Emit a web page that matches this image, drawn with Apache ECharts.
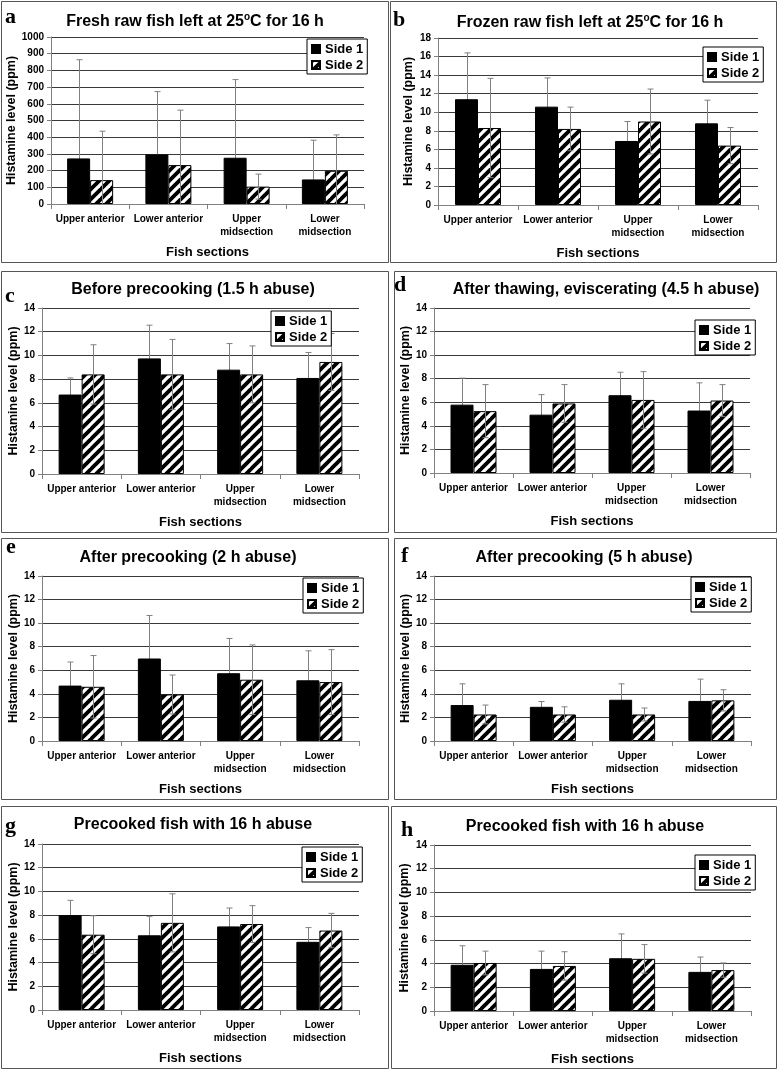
<!DOCTYPE html>
<html><head><meta charset="utf-8">
<script src="https://cdn.jsdelivr.net/npm/echarts@6/dist/echarts.min.js"></script>
<style>html,body{margin:0;padding:0;background:#fff}#c{width:779px;height:1070px}</style>
</head><body><div id="c"></div>
<script>
// ---------- data ----------
const categories = ['Upper anterior', 'Lower anterior', 'Upper\nmidsection', 'Lower\nmidsection'];
const seriesNames = ['Side 1', 'Side 2'];
const yAxisName = 'Histamine level (ppm)';
const xAxisName = 'Fish sections';
const panelLetters = ['a', 'b', 'c', 'd', 'e', 'f', 'g', 'h'];
const panelTitles = [
  'Fresh raw fish left at 25{s|o}C for 16 h',
  'Frozen raw fish left at 25{s|o}C for 16 h',
  'Before precooking (1.5 h abuse)',
  'After thawing, eviscerating (4.5 h abuse)',
  'After precooking (2 h abuse)',
  'After precooking (5 h abuse)',
  'Precooked fish with 16 h abuse',
  'Precooked fish with 16 h abuse'
];
const yMax = [1000, 18, 14, 14, 14, 14, 14, 14];
const yStep = [100, 2, 2, 2, 2, 2, 2, 2];

const aSide1 = [273, 297, 277, 147];   const aSide1Err = [591, 376, 468, 235];
const aSide2 = [143, 233, 104, 199];   const aSide2Err = [293, 329, 75, 215];
const bSide1 = [11.4, 10.6, 6.9, 8.8]; const bSide1Err = [5.0, 3.1, 2.1, 2.5];
const bSide2 = [8.3, 8.2, 9.0, 6.4];   const bSide2Err = [5.35, 2.35, 3.5, 1.95];
const cSide1 = [6.7, 9.75, 8.8, 8.1];  const cSide1Err = [1.4, 2.8, 2.2, 2.15];
const cSide2 = [8.4, 8.4, 8.4, 9.45];  const cSide2Err = [2.5, 2.95, 2.4, 2.4];
const dSide1 = [5.8, 4.95, 6.6, 5.3];  const dSide1Err = [2.25, 1.7, 1.95, 2.35];
const dSide2 = [5.25, 5.9, 6.2, 6.15]; const dSide2Err = [2.25, 1.6, 2.4, 1.35];
const eSide1 = [4.7, 7.0, 5.75, 5.15]; const eSide1Err = [2.0, 3.65, 2.95, 2.5];
const eSide2 = [4.6, 3.95, 5.2, 5.0];  const eSide2Err = [2.65, 1.65, 2.95, 2.75];
const fSide1 = [3.05, 2.9, 3.5, 3.4];  const fSide1Err = [1.8, 0.45, 1.35, 1.85];
const fSide2 = [2.25, 2.25, 2.25, 3.45]; const fSide2Err = [0.8, 0.65, 0.55, 0.9];
const gSide1 = [8.0, 6.3, 7.05, 5.75]; const gSide1Err = [1.25, 1.6, 1.55, 1.2];
const gSide2 = [6.35, 7.35, 7.25, 6.7]; const gSide2Err = [1.6, 2.45, 1.55, 1.45];
const hSide1 = [3.9, 3.55, 4.45, 3.3]; const hSide1Err = [1.6, 1.5, 2.05, 1.25];
const hSide2 = [4.05, 3.8, 4.4, 3.45]; const hSide2Err = [1.0, 1.2, 1.2, 0.6];

const side1 = [aSide1, bSide1, cSide1, dSide1, eSide1, fSide1, gSide1, hSide1];
const side1Err = [aSide1Err, bSide1Err, cSide1Err, dSide1Err, eSide1Err, fSide1Err, gSide1Err, hSide1Err];
const side2 = [aSide2, bSide2, cSide2, dSide2, eSide2, fSide2, gSide2, hSide2];
const side2Err = [aSide2Err, bSide2Err, cSide2Err, dSide2Err, eSide2Err, fSide2Err, gSide2Err, hSide2Err];

// ---------- layout (page pixels) ----------
const layout = [
  {box:[1,1,387,261],   grid:[51,37,313,167],  title:[195,22],  legend:[307,39],  letter:[5,24],   nameGap:27},
  {box:[390,1,386,261], grid:[438,38,320,167], title:[590,23],  legend:[703,47],  letter:[393,27], nameGap:23},
  {box:[1,271,387,261], grid:[42,308,317,166], title:[193,290], legend:[271,311], letter:[5,303],  nameGap:22},
  {box:[394,271,382,261],grid:[434,308,316,165],title:[606,290],legend:[695,320], letter:[394,292],nameGap:22},
  {box:[1,538,387,261], grid:[42,576,317,165], title:[188,558], legend:[303,578], letter:[6,554],  nameGap:22},
  {box:[394,538,382,261],grid:[434,576,317,165],title:[584,558],legend:[691,577], letter:[401,563],nameGap:22},
  {box:[1,806,387,262], grid:[42,844,317,166], title:[193,825], legend:[302,847], letter:[5,833],  nameGap:22},
  {box:[391,806,385,262],grid:[434,845,317,166],title:[585,827],legend:[695,855], letter:[401,837],nameGap:23}
];

const FONT = '"Liberation Sans", Arial, sans-serif';
const BAR_W = 23;

function makeHatch() {
  const p = 10, c = document.createElement('canvas');
  c.width = p; c.height = p;
  const g = c.getContext('2d');
  g.fillStyle = '#fff'; g.fillRect(0, 0, p, p);
  g.strokeStyle = '#000'; g.lineWidth = 3.8;
  for (const k of [0, p, 2 * p]) {
    g.beginPath(); g.moveTo(k + 2, -2); g.lineTo(k - p - 2, p + 2); g.stroke();
  }
  return c;
}
const hatch = { image: makeHatch(), repeat: 'repeat' };

function errSeries(gi, vals, errs, sign, z) {
  return {
    type: 'custom', xAxisIndex: gi, yAxisIndex: gi, z: z, clip: true, silent: true,
    data: vals.map((v, i) => [i, v, errs[i]]),
    encode: { x: 0, y: 1 },
    renderItem: function (params, api) {
      const i = api.value(0), v = api.value(1), e = api.value(2);
      const top = api.coord([i, v + e]);
      const bot = api.coord([i, v - e]);
      const x = Math.round(top[0] + sign * BAR_W / 2) + 0.5;
      const cap = 3;
      const style = { stroke: '#808080', lineWidth: 1 };
      return { type: 'group', children: [
        { type: 'line', shape: { x1: x, y1: top[1], x2: x, y2: bot[1] }, style: style },
        { type: 'line', shape: { x1: x - cap, y1: top[1], x2: x + cap, y2: top[1] }, style: style },
        { type: 'line', shape: { x1: x - cap, y1: bot[1], x2: x + cap, y2: bot[1] }, style: style }
      ]};
    }
  };
}

const option = { animation: false, backgroundColor: '#fff',
  title: [], legend: [], grid: [], xAxis: [], yAxis: [], series: [], graphic: [] };

layout.forEach((L, i) => {
  option.graphic.push({ type: 'rect', silent: true, z: 0,
    shape: { x: L.box[0] + 0.5, y: L.box[1] + 0.5, width: L.box[2], height: L.box[3] },
    style: { fill: 'none', stroke: '#555', lineWidth: 1 } });
  option.graphic.push({ type: 'text', silent: true, z: 10,
    style: { text: panelLetters[i], x: L.letter[0], y: L.letter[1] + 4, verticalAlign: 'bottom',
      font: 'bold 22px "Liberation Serif", "Times New Roman", serif', fill: '#000' } });
  option.title.push({ text: '{t|' + panelTitles[i].replace('{s|o}', '}{s|o}{t|') + '}',
    left: L.title[0], top: L.title[1] - 10, textAlign: 'center', padding: 0,
    textStyle: { rich: {
      t: { fontSize: 16, fontWeight: 'bold', fontFamily: FONT, color: '#000', lineHeight: 20 },
      s: { fontSize: 10, fontWeight: 'bold', fontFamily: FONT, color: '#000', verticalAlign: 'top', lineHeight: 20 }
    } } });
  option.legend.push({ data: seriesNames, orient: 'vertical', left: L.legend[0], top: L.legend[1],
    backgroundColor: '#fff', borderColor: '#000', borderWidth: 1, padding: [3, 4, 2, 4],
    itemGap: 2, itemWidth: 8, itemHeight: 8, itemTextGap: 4, icon: 'rect', selectedMode: false,
    textStyle: { fontSize: 13, fontWeight: 'bold', fontFamily: FONT, color: '#000', lineHeight: 14 } });
  option.grid.push({ left: L.grid[0], top: L.grid[1], width: L.grid[2], height: L.grid[3], containLabel: false });
  option.xAxis.push({ type: 'category', gridIndex: i, data: categories,
    axisLine: { lineStyle: { color: '#808080' } },
    axisTick: { show: true, length: 5, interval: 0, lineStyle: { color: '#808080' } },
    axisLabel: { interval: 0, fontSize: 10, fontWeight: 'bold', fontFamily: FONT, color: '#000', margin: 9, lineHeight: 13 },
    name: xAxisName, nameLocation: 'middle', nameGap: 42,
    nameTextStyle: { fontSize: 13, fontWeight: 'bold', fontFamily: FONT, color: '#000' } });
  option.yAxis.push({ type: 'value', gridIndex: i, min: 0, max: yMax[i], interval: yStep[i],
    axisLine: { show: true, lineStyle: { color: '#808080' } },
    axisTick: { show: true, length: 4, lineStyle: { color: '#808080' } },
    axisLabel: { fontSize: 10, fontWeight: 'bold', fontFamily: FONT, color: '#000', margin: 7,
      formatter: v => String(v) },
    splitLine: { lineStyle: { color: '#3a3a3a', width: 1 } },
    name: yAxisName, nameLocation: 'middle', nameRotate: 90, nameGap: L.nameGap,
    nameTextStyle: { fontSize: 12.5, fontWeight: 'bold', fontFamily: FONT, color: '#000' } });
  option.series.push({ type: 'bar', name: seriesNames[0], xAxisIndex: i, yAxisIndex: i, z: 4,
    data: side1[i], barWidth: BAR_W, barGap: '0%',
    itemStyle: { color: '#000', borderColor: '#000', borderWidth: 1 } });
  option.series.push({ type: 'bar', name: seriesNames[1], xAxisIndex: i, yAxisIndex: i, z: 2,
    data: side2[i], barWidth: BAR_W, barGap: '0%',
    itemStyle: { color: hatch, borderColor: '#000', borderWidth: 1 } });
  option.series.push(errSeries(i, side1[i], side1Err[i], -1, 3));
  option.series.push(errSeries(i, side2[i], side2Err[i], 1, 3));
});

const chart = echarts.init(document.getElementById('c'), null, { renderer: 'canvas' });
chart.setOption(option);
</script></body></html>
